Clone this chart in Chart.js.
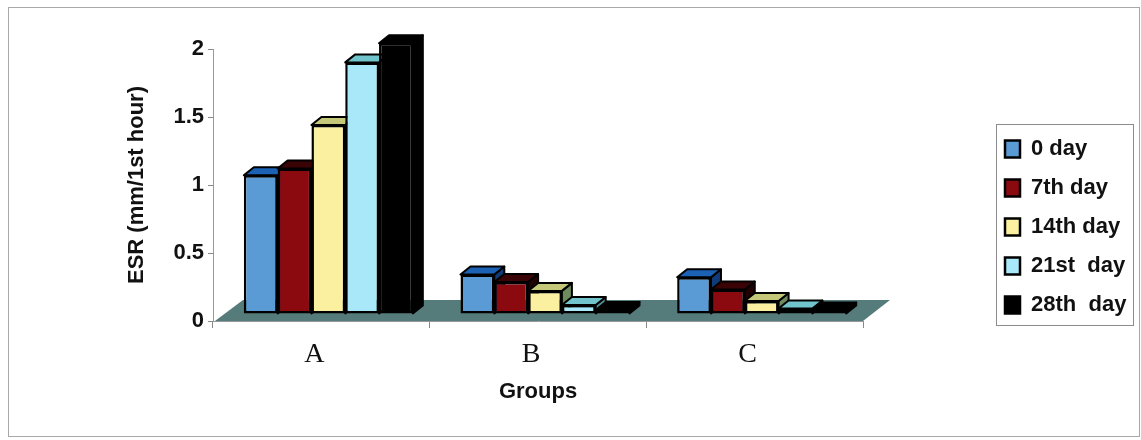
<!DOCTYPE html>
<html>
<head>
<meta charset="utf-8">
<title>ESR by group</title>
<script src="https://cdn.jsdelivr.net/npm/chart.js@4/dist/chart.umd.min.js"></script>
<style>
  html, body { margin: 0; padding: 0; background: #fff; }
  #wrap { position: relative; width: 1141px; height: 440px; }
</style>
</head>
<body>
<div id="wrap"><canvas id="esrChart"></canvas></div>
<script>
const groups = ['A', 'B', 'C'];
const dayLabels = ['0 day', '7th day', '14th day', '21st  day', '28th  day'];
const day0 = [1.02, 0.29, 0.27];
const day7 = [1.07, 0.235, 0.18];
const day14 = [1.39, 0.17, 0.095];
const day21 = [1.85, 0.066, 0.04];
const day28 = [1.99, 0.03, 0.025];
const yTicks = ['0', '0.5', '1', '1.5', '2'];

const frontColors = ['#5b9bd5', '#8b0a10', '#fbf0a0', '#a8e8f8', '#000000'];
const topColors = ['#1c62b4', '#3a0306', '#c4c878', '#72c4cc', '#000000'];
const sideColors = ['#103a78', '#200002', '#6f8a5c', '#4f8f98', '#000000'];

// bars stand part way into the floor, this is the shift from the axis plane
const shiftX = 7, shiftY = 7;
const depthX = 10, depthY = 8;

function face(ctx, pts, fill) {
  ctx.beginPath();
  pts.forEach((p, i) => i ? ctx.lineTo(p[0], p[1]) : ctx.moveTo(p[0], p[1]));
  ctx.closePath();
  ctx.fillStyle = fill;
  ctx.fill();
  ctx.stroke();
}

const box3d = {
  id: 'box3d',
  afterLayout(chart) {
    // legend goes to the right of the plot, bottom is left loose so it stays one column
    const lg = chart.legend;
    lg.left = 988; lg.right = 1141;
    lg.top = 121; lg.bottom = 420;
  },
  beforeDraw(chart) {
    const ctx = chart.ctx;
    ctx.save();
    ctx.strokeStyle = '#a8a8a8';
    ctx.lineWidth = 1;
    ctx.strokeRect(8.5, 7.5, 1131, 429);
    ctx.restore();
  },
  beforeDatasetsDraw(chart) {
    const ctx = chart.ctx, a = chart.chartArea;
    ctx.save();
    // floor
    ctx.beginPath();
    ctx.moveTo(a.left + 2, a.bottom);
    ctx.lineTo(a.right, a.bottom);
    ctx.lineTo(a.right + 27, a.bottom - 21);
    ctx.lineTo(a.left + 30, a.bottom - 21);
    ctx.closePath();
    ctx.fillStyle = '#557c7a';
    ctx.fill();

    ctx.translate(shiftX, -shiftY);
    ctx.strokeStyle = '#000';
    ctx.lineWidth = 2;
    ctx.lineJoin = 'round';
    // left to right, each bar covers the side face of the one before it
    chart.data.datasets.forEach((ds, i) => {
      const meta = chart.getDatasetMeta(i);
      meta.data.forEach(bar => {
        const l = bar.x - bar.width / 2, r = bar.x + bar.width / 2;
        const t = bar.y, b = bar.base;
        face(ctx, [[r, t], [r + depthX, t - depthY], [r + depthX, b - depthY], [r, b]], sideColors[i]);
        face(ctx, [[l, t], [l + depthX, t - depthY], [r + depthX, t - depthY], [r, t]], topColors[i]);
      });
      meta.controller.draw();
    });
    ctx.restore();
    return false;
  },
  afterDraw(chart) {
    // border round the legend
    const ctx = chart.ctx;
    ctx.save();
    ctx.strokeStyle = '#8c8c8c';
    ctx.lineWidth = 1;
    ctx.strokeRect(996.5, 124.5, 137, 201);
    ctx.restore();
  }
};

const seriesValues = [day0, day7, day14, day21, day28];

new Chart(document.getElementById('esrChart'), {
  type: 'bar',
  plugins: [box3d],
  data: {
    labels: groups,
    datasets: seriesValues.map((vals, i) => ({
      label: dayLabels[i],
      data: vals,
      clip: false,
      backgroundColor: frontColors[i],
      borderColor: '#000',
      borderWidth: 2.5,
      borderSkipped: false,
      categoryPercentage: 0.78,
      barPercentage: 1
    }))
  },
  options: {
    responsive: true,
    maintainAspectRatio: false,
    animation: false,
    layout: { padding: { left: 124, top: 49, right: 278, bottom: 35 } },
    plugins: {
      tooltip: { enabled: false },
      legend: {
        position: 'chartArea',
        align: 'start',
        labels: {
          boxWidth: 15,
          boxHeight: 17,
          padding: 17,
          color: '#111',
          font: { family: '"Liberation Sans", Arial, sans-serif', size: 22, weight: 'bold' }
        }
      }
    },
    scales: {
      x: {
        afterFit(s) { s.height = 84; },
        border: { color: '#999', width: 1 },
        grid: { offset: true, drawOnChartArea: false, color: '#888', tickLength: 7 },
        ticks: {
          color: '#111',
          labelOffset: -7,
          padding: 10,
          maxRotation: 0,
          font: { family: '"Liberation Serif", "Times New Roman", serif', size: 28 }
        },
        title: {
          display: true,
          text: 'Groups',
          color: '#111',
          padding: 0,
          font: { family: '"Liberation Sans", Arial, sans-serif', size: 22, weight: 'bold' }
        }
      },
      y: {
        min: 0,
        max: 2,
        afterFit(s) { s.width = 89; },
        ticks: {
          color: '#111',
          padding: 4,
          stepSize: 0.5,
          callback: (v, i) => yTicks[i],
          font: { family: '"Liberation Sans", Arial, sans-serif', size: 22, weight: 'bold' }
        },
        border: { color: '#999', width: 1 },
        grid: { drawOnChartArea: false, color: '#888', tickLength: 5 },
        title: {
          display: true,
          text: 'ESR (mm/1st hour)',
          color: '#111',
          padding: 0,
          font: { family: '"Liberation Sans", Arial, sans-serif', size: 22, weight: 'bold' }
        }
      }
    }
  }
});
</script>
</body>
</html>
